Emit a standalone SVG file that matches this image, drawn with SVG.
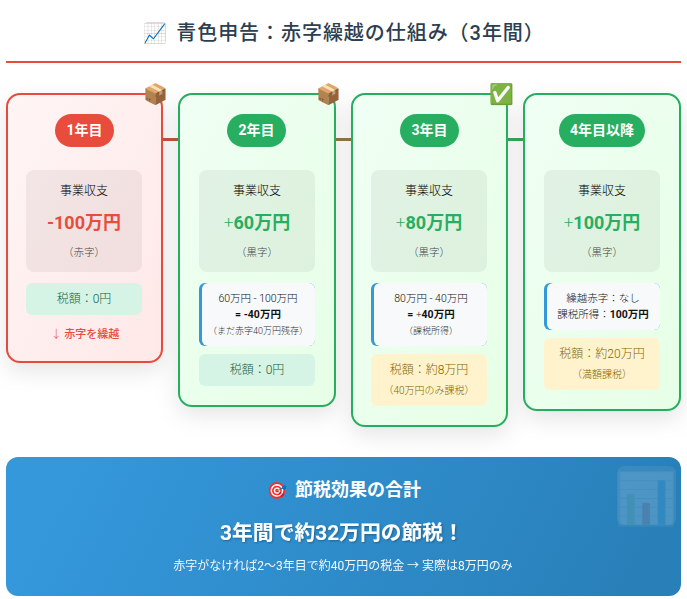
<svg xmlns="http://www.w3.org/2000/svg" width="687" height="599" viewBox="0 0 687 599">
<style>
text{font-family:Roboto,"Noto Sans CJK JP","Noto Color Emoji",sans-serif;text-anchor:middle;fill:#333}
.pill{font-size:14px;font-weight:700;fill:#fff}
.lab{font-size:12px;fill:#000;font-weight:300}
.amt{font-size:18px;font-weight:700}
.plus{font-family:"Noto Sans CJK JP",sans-serif;font-weight:300}
.sub{font-size:10.5px;fill:#444;font-weight:300}
.tax{font-size:12px;fill:#155d38;font-weight:300}
.warn{font-size:12px;fill:#856404;font-weight:300}
.warns{font-size:10px;fill:#856404;font-weight:300}
.calc{font-size:10.5px;fill:#111;font-weight:300}
.calc .b,.calc.b{font-weight:700;fill:#111}
.small{font-size:9px;fill:#333;font-weight:300}
.emo{font-size:20px}
.red{fill:#e74c3c}.green{fill:#27ae60}
.box{fill:#000;fill-opacity:.05}
.tbox{fill:#d5f4e6}.wbox{fill:#fff3cd}.cbox{fill:#f8f9fa}
.side{fill:#3498db}
</style>
<defs>
<linearGradient id="gr" x1="0" y1="0" x2="1" y2="1"><stop offset="0" stop-color="#fff5f5"/><stop offset="1" stop-color="#ffe8e8"/></linearGradient>
<linearGradient id="gg" x1="0" y1="0" x2="1" y2="1"><stop offset="0" stop-color="#f0fff4"/><stop offset="1" stop-color="#e6ffe6"/></linearGradient>
<linearGradient id="gb" gradientUnits="userSpaceOnUse" x1="100" y1="400" x2="590" y2="650"><stop offset="0" stop-color="#3498db"/><stop offset="1" stop-color="#2980b9"/></linearGradient>
<filter id="sh" x="-30%" y="-20%" width="160%" height="140%"><feDropShadow dx="0" dy="8" stdDeviation="11" flood-color="#000" flood-opacity=".1"/></filter>
<filter id="ts" x="-10%" y="-30%" width="120%" height="160%"><feDropShadow dx="1" dy="1" stdDeviation="1" flood-color="#000" flood-opacity=".3"/></filter>
</defs>
<rect width="687" height="599" fill="#fff"/>
<g id="header">
<rect x="145" y="22" width="21" height="21" rx="3" fill="#dfd8ea"/>
<text x="155.500" y="40" style="font-size:19px;filter:hue-rotate(210deg)">📈</text>
<text x="360.500" y="39.500" style="font-size:20px;font-weight:500;fill:#2c3e50;letter-spacing:.95px">青色申告：赤字繰越の仕組み（3年間）</text>
<rect x="6" y="61" width="675" height="2" fill="#e74c3c"/>
</g>
<g id="connectors">
<rect x="162" y="138" width="17" height="3" fill="#bf5540"/>
<rect x="335" y="138" width="17" height="3" fill="#8b7a45"/>
<rect x="507" y="138" width="17" height="3" fill="#3aa55c"/>
</g>
<g id="card1">
<rect x="7" y="94" width="155" height="268" rx="13" fill="url(#gr)" stroke="#e74c3c" stroke-width="2" filter="url(#sh)"/>
<text class="emo" x="156" y="101">📦</text>
<rect x="55" y="114" width="59" height="33" rx="16.5" fill="#e74c3c"/>
<text class="pill" x="84.500" y="135">1年目</text>
<rect class="box" x="26" y="170" width="116" height="102" rx="8"/>
<text class="lab" x="84" y="195">事業収支</text>
<text class="amt red" x="84" y="229">-100万円</text>
<text class="sub" x="84" y="256">（赤字）</text>
<rect class="tbox" x="26" y="283" width="116" height="32" rx="6"/>
<text class="tax" x="84" y="303">税額：0円</text>
<text x="85" y="338" style="font-size:11px;font-weight:500;fill:#e74c3c"><tspan font-weight="300">↓</tspan> 赤字を繰越</text>
</g>
<g id="card2">
<rect x="179" y="94" width="156" height="312" rx="13" fill="url(#gg)" stroke="#27ae60" stroke-width="2" filter="url(#sh)"/>
<text class="emo" x="329" y="101">📦</text>
<rect x="227" y="114" width="59" height="33" rx="16.5" fill="#27ae60"/>
<text class="pill" x="256.500" y="135">2年目</text>
<rect class="box" x="199" y="170" width="116" height="102" rx="8"/>
<text class="lab" x="257" y="195">事業収支</text>
<text class="amt green" x="257" y="229"><tspan class="plus">+</tspan>60万円</text>
<text class="sub" x="257" y="256">（黒字）</text>
<rect class="side" x="199" y="283" width="116" height="63" rx="6"/>
<rect class="cbox" x="202" y="283" width="113" height="63" rx="6"/>
<text class="calc" x="258" y="302">60万円 - 100万円</text>
<text class="calc b" x="258" y="318">= -40万円</text>
<text class="small" x="258" y="334">（まだ赤字40万円残存）</text>
<rect class="tbox" x="199" y="354" width="116" height="32" rx="6"/>
<text class="tax" x="257" y="374">税額：0円</text>
</g>
<g id="card3">
<rect x="352" y="94" width="155" height="332" rx="13" fill="url(#gg)" stroke="#27ae60" stroke-width="2" filter="url(#sh)"/>
<text class="emo" x="501.500" y="101">✅</text>
<rect x="400" y="114" width="59" height="33" rx="16.5" fill="#27ae60"/>
<text class="pill" x="429.500" y="135">3年目</text>
<rect class="box" x="371" y="170" width="116" height="102" rx="8"/>
<text class="lab" x="429" y="195">事業収支</text>
<text class="amt green" x="429" y="229"><tspan class="plus">+</tspan>80万円</text>
<text class="sub" x="429" y="256">（黒字）</text>
<rect class="side" x="371" y="283" width="116" height="63" rx="6"/>
<rect class="cbox" x="374" y="283" width="113" height="63" rx="6"/>
<text class="calc" x="431" y="302">80万円 - 40万円</text>
<text class="calc b" x="431" y="318">= <tspan class="plus">+</tspan>40万円</text>
<text class="small" x="431" y="334">（課税所得）</text>
<rect class="wbox" x="371" y="354" width="116" height="52" rx="6"/>
<text class="warn" x="429" y="374">税額：約8万円</text>
<text class="warns" x="429" y="394">（40万円のみ課税）</text>
</g>
<g id="card4">
<rect x="524" y="94" width="156" height="316" rx="13" fill="url(#gg)" stroke="#27ae60" stroke-width="2" filter="url(#sh)"/>
<rect x="559" y="114" width="86" height="33" rx="16.5" fill="#27ae60"/>
<text class="pill" x="602" y="135">4年目以降</text>
<rect class="box" x="544" y="170" width="116" height="102" rx="8"/>
<text class="lab" x="602" y="195">事業収支</text>
<text class="amt green" x="602" y="229"><tspan class="plus">+</tspan>100万円</text>
<text class="sub" x="602" y="256">（黒字）</text>
<rect class="side" x="544" y="283" width="116" height="47" rx="6"/>
<rect class="cbox" x="547" y="283" width="113" height="47" rx="6"/>
<text class="calc" x="603" y="302">繰越赤字：なし</text>
<text class="calc" x="603" y="318">課税所得：<tspan class="b">100万円</tspan></text>
<rect class="wbox" x="544" y="338" width="116" height="52" rx="6"/>
<text class="warn" x="602" y="358">税額：約20万円</text>
<text class="warns" x="602" y="378">（満額課税）</text>
</g>
<g id="summary">
<rect x="6" y="457" width="675" height="139" rx="12" fill="url(#gb)"/>
<rect x="617" y="466" width="59" height="59" rx="7" fill="#fff" opacity=".07"/>
<text x="646.500" y="516" style="font-size:50px;opacity:.1">📊</text>
<text x="277" y="496" style="font-size:16px;fill:#fff">🎯</text>
<text x="358" y="496" style="font-size:18px;font-weight:700;fill:#fff">節税効果の合計</text>
<text x="342" y="540" style="font-size:20.800px;font-weight:700;fill:#fff" filter="url(#ts)">3年間で約32万円の節税！</text>
<text x="343" y="570" style="font-size:12px;fill:#fff;opacity:.95">赤字がなければ2〜3年目で約40万円の税金 → 実際は8万円のみ</text>
</g>
</svg>
